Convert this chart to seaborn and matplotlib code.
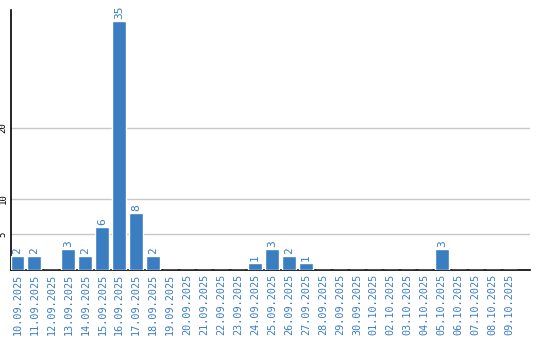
import matplotlib
matplotlib.use("Agg")
import matplotlib.pyplot as plt
import seaborn as sns
import pandas as pd

dates = ["10.09.2025", "11.09.2025", "12.09.2025", "13.09.2025", "14.09.2025",
         "15.09.2025", "16.09.2025", "17.09.2025", "18.09.2025", "19.09.2025",
         "20.09.2025", "21.09.2025", "22.09.2025", "23.09.2025", "24.09.2025",
         "25.09.2025", "26.09.2025", "27.09.2025", "28.09.2025", "29.09.2025",
         "30.09.2025", "01.10.2025", "02.10.2025", "03.10.2025", "04.10.2025",
         "05.10.2025", "06.10.2025", "07.10.2025", "08.10.2025", "09.10.2025"]
counts = [2, 2, 0, 3, 2, 6, 35, 8, 2, 0,
          0, 0, 0, 0, 1, 3, 2, 1, 0, 0,
          0, 0, 0, 0, 0, 3, 0, 0, 0, 0]
yticks = [5, 10, 20]

blue = "#3b7dc1"
sns.set_style("white")
plt.rcParams['font.family'] = ['DejaVu Sans Mono', 'DejaVu Sans']

df = pd.DataFrame({"date": dates, "count": counts})
fig = plt.figure(figsize=(5.4, 3.4), dpi=100)
ax = fig.add_axes([10.5 / 540, 1 - 270 / 340, (530 - 10.5) / 540, 260 / 340])
sns.barplot(data=df, x="date", y="count", color=blue, saturation=1, width=0.82, ax=ax, zorder=3)

ax.set_xlim(-0.41, 30.2)
ax.set_ylim(0, 36.6)
ax.set_yticks(yticks)
ax.set_yticklabels([str(t) for t in yticks], rotation=90, va="center", fontsize=6.5, color="black")
ax.yaxis.grid(True, color="#c8c8c8", linewidth=1, zorder=0)
ax.set_axisbelow(True)
ax.tick_params(axis="both", length=0, pad=2)
ax.tick_params(axis="x", pad=3)
ax.set_xticks(range(len(dates)))
ax.set_xticklabels(dates, rotation=90, fontsize=7.3, color=blue)
ax.set_xlabel("")
ax.set_ylabel("")
for side in ["top", "right"]:
    ax.spines[side].set_visible(False)
for side in ["left", "bottom"]:
    ax.spines[side].set_color("black")
    ax.spines[side].set_linewidth(1.2)

for i, v in enumerate(counts):
    if v > 0:
        ax.text(i, v + 0.3, str(v), rotation=90, ha="center", va="bottom", fontsize=8, color=blue)

fig.savefig("out.png", dpi=100)
